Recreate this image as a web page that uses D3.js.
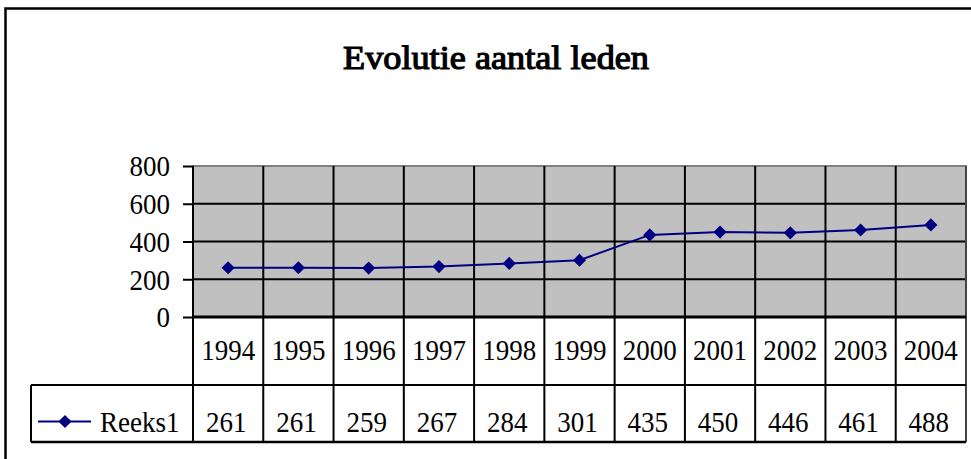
<!DOCTYPE html>
<html>
<head>
<meta charset="utf-8">
<script src="https://cdn.jsdelivr.net/npm/d3@7"></script>
<style>
  body { margin: 0; background: #fff; }
  text { font-family: 'Liberation Serif', 'Times New Roman', serif; fill: #000; }
</style>
</head>
<body>
<div class="canvas"></div>
<script>
// data
const years = ['1994', '1995', '1996', '1997', '1998', '1999', '2000', '2001', '2002', '2003', '2004']
const reeks1 = [261, 261, 259, 267, 284, 301, 435, 450, 446, 461, 488]
const yTicks = [0, 200, 400, 600, 800]
const seriesName = 'Reeks1'
const title = 'Evolutie aantal leden'

const dims = { width: 971, height: 459 }
const plot = { left: 193, right: 966, top: 166, bottom: 317 }
const rows = { cat: 385, legend: 442, legendLeft: 31 }
const stretch = 'scale(1, 1.1)' // text in the reference is a bit taller

const svg = d3.select('.canvas')
  .append('svg')
  .attr('width', dims.width)
  .attr('height', dims.height)

// chart border (runs off the picture on right / bottom)
svg.append('rect')
  .attr('x', 5.5).attr('y', 8.5)
  .attr('width', 1000).attr('height', 1000)
  .attr('fill', 'none')
  .attr('stroke', '#000')
  .attr('stroke-width', 2.5)

// title (bold face is faked with a stroke)
const titleText = svg.append('text')
  .attr('transform', `translate(496, 69) ${stretch}`)
  .attr('text-anchor', 'middle')
  .attr('font-size', 31)
  .attr('stroke', '#000')
  .attr('stroke-width', 1.1)
  .text(title)
titleText.attr('textLength', 306).attr('lengthAdjust', 'spacingAndGlyphs')

const x = d3.scaleBand()
  .domain(years)
  .range([plot.left, plot.right])

const y = d3.scaleLinear()
  .domain([0, 800])
  .range([plot.bottom, plot.top])

// plot area
svg.append('rect')
  .attr('x', plot.left).attr('y', plot.top)
  .attr('width', plot.right - plot.left)
  .attr('height', plot.bottom - plot.top)
  .attr('fill', '#c0c0c0')
  .attr('stroke', '#808080')
  .attr('stroke-width', 2)

// horizontal gridlines
svg.append('g')
  .selectAll('line')
  .data(yTicks.filter(d => d > 0 && d < 800))
  .enter().append('line')
    .attr('x1', plot.left).attr('x2', plot.right)
    .attr('y1', d => y(d)).attr('y2', d => y(d))
    .attr('stroke', '#000')
    .attr('stroke-width', 2)

// vertical lines: plot + category row (category boundaries)
const bounds = years.map(d => x(d)).concat([plot.right])
svg.append('g')
  .selectAll('line')
  .data(bounds)
  .enter().append('line')
    .attr('x1', d => d).attr('x2', d => d)
    .attr('y1', plot.top).attr('y2', rows.legend)
    .attr('stroke', (d, i) => i === bounds.length - 1 ? '#444' : '#000')
    .attr('stroke-width', 2)

// y axis
const yAxis = d3.axisLeft(y)
  .tickValues(yTicks)
  .tickSize(10)
  .tickPadding(13)

const yG = svg.append('g')
  .attr('transform', `translate(${plot.left}, 0)`)
  .call(yAxis)
yG.select('.domain').remove()
yG.selectAll('.tick line').attr('stroke', '#000').attr('stroke-width', 2)
yG.selectAll('.tick text')
  .attr('font-size', 27)
  .attr('font-family', "'Liberation Serif', serif")
  .attr('fill', '#000')
  .attr('dy', '0.33em')
  .attr('transform', stretch)

// table lines
svg.append('line')
  .attr('x1', plot.left).attr('x2', plot.right)
  .attr('y1', plot.bottom).attr('y2', plot.bottom)
  .attr('stroke', '#000').attr('stroke-width', 3)
svg.append('line')
  .attr('x1', rows.legendLeft).attr('x2', plot.right)
  .attr('y1', rows.cat).attr('y2', rows.cat)
  .attr('stroke', '#000').attr('stroke-width', 2)
svg.append('line')
  .attr('x1', rows.legendLeft).attr('x2', plot.right)
  .attr('y1', rows.legend).attr('y2', rows.legend)
  .attr('stroke', '#000').attr('stroke-width', 2.5)
svg.append('line')
  .attr('x1', rows.legendLeft).attr('x2', rows.legendLeft)
  .attr('y1', rows.cat).attr('y2', rows.legend)
  .attr('stroke', '#000').attr('stroke-width', 2)

// category labels
svg.append('g')
  .selectAll('text')
  .data(years)
  .enter().append('text')
    .attr('transform', d => `translate(${x(d) + x.bandwidth() / 2}, 360) ${stretch}`)
    .attr('text-anchor', 'middle')
    .attr('font-size', 27)
    .text(d => d)

// value labels
svg.append('g')
  .selectAll('text')
  .data(reeks1)
  .enter().append('text')
    .attr('transform', (d, i) => `translate(${x(years[i]) + x.bandwidth() / 2 - 2}, 432) ${stretch}`)
    .attr('text-anchor', 'middle')
    .attr('font-size', 27)
    .text(d => d)

// series line
const navy = '#000080'
const line = d3.line()
  .x((d, i) => x(years[i]) + x.bandwidth() / 2)
  .y(d => y(d))

svg.append('path')
  .datum(reeks1)
  .attr('fill', 'none')
  .attr('stroke', navy)
  .attr('stroke-width', 2)
  .attr('d', line)

const diamond = d3.symbol().type(d3.symbolDiamond2).size(110)

svg.append('g')
  .selectAll('path')
  .data(reeks1)
  .enter().append('path')
    .attr('d', diamond)
    .attr('fill', navy)
    .attr('transform', (d, i) => `translate(${x(years[i]) + x.bandwidth() / 2}, ${y(d)})`)

// legend key
const keyY = 421.5
svg.append('line')
  .attr('x1', 38).attr('x2', 91)
  .attr('y1', keyY).attr('y2', keyY)
  .attr('stroke', navy).attr('stroke-width', 2)
svg.append('path')
  .attr('d', diamond)
  .attr('fill', navy)
  .attr('transform', `translate(65, ${keyY})`)
svg.append('text')
  .attr('transform', `translate(100, 432) ${stretch}`)
  .attr('font-size', 27)
  .text(seriesName)
</script>
</body>
</html>
